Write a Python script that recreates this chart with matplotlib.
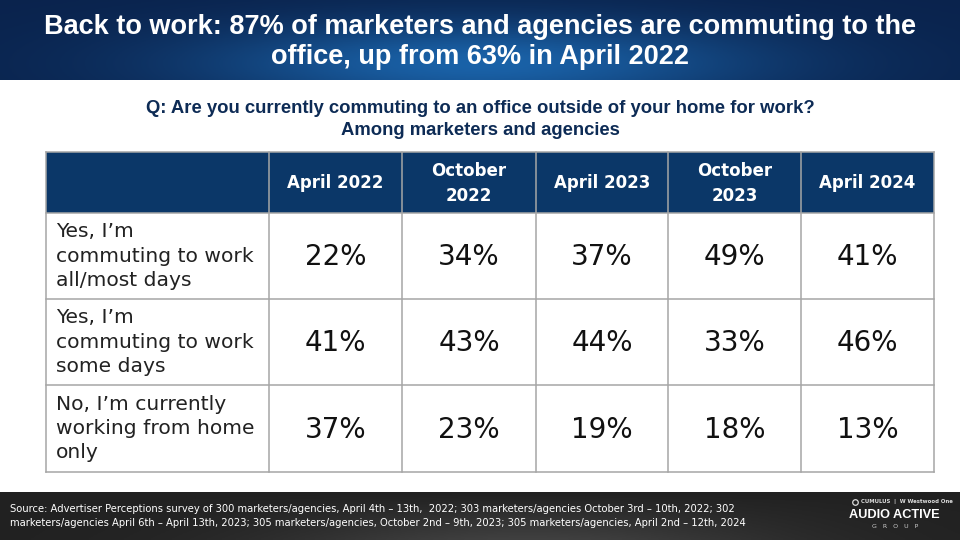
import numpy as np
import matplotlib
matplotlib.use("Agg")
import matplotlib.pyplot as plt
from matplotlib.patches import Rectangle

title = "Back to work: 87% of marketers and agencies are commuting to the\noffice, up from 63% in April 2022"
question = "Q: Are you currently commuting to an office outside of your home for work?\nAmong marketers and agencies"
periods = ["April 2022", "October\n2022", "April 2023", "October\n2023", "April 2024"]
answers = [
    "Yes, I\u2019m\ncommuting to work\nall/most days",
    "Yes, I\u2019m\ncommuting to work\nsome days",
    "No, I\u2019m currently\nworking from home\nonly",
]
all_most_days = [22, 34, 37, 49, 41]
some_days = [41, 43, 44, 33, 46]
home_only = [37, 23, 19, 18, 13]
source = ("Source: Advertiser Perceptions survey of 300 marketers/agencies, April 4th \u2013 13th,  2022; "
          "303 marketers/agencies October 3rd \u2013 10th, 2022; 302\n"
          "marketers/agencies April 6th \u2013 April 13th, 2023; 305 marketers/agencies, October 2nd \u2013 9th, 2023; "
          "305 marketers/agencies, April 2nd \u2013 12th, 2024")

values = [all_most_days, some_days, home_only]

# layout in pixels
col_edges = [46, 269, 402, 536, 668, 801, 934]
row_edges = [152, 213, 299, 385, 472]
navy = "#0b3768"
grid = "#a6a6a6"

fig = plt.figure(figsize=(9.6, 5.4), dpi=100)
ax = fig.add_axes([0, 0, 1, 1])
ax.set_xlim(0, 960)
ax.set_ylim(540, 0)
ax.axis("off")

# title band with a soft radial highlight
xx, yy = np.meshgrid(np.linspace(-1, 1, 400), np.linspace(-1, 1, 40))
glow = np.exp(-(xx ** 2) / 0.35 - ((yy - 0.6) ** 2) / 1.2)
band = np.zeros((40, 400, 3))
dark = np.array([0x0a, 0x23, 0x4d]) / 255
light = np.array([0x1a, 0x62, 0xa8]) / 255
for i in range(3):
    band[..., i] = dark[i] + (light[i] - dark[i]) * glow
ax.imshow(band, extent=(0, 960, 80, 0), aspect="auto", zorder=0)
ax.text(480, 42.5, title, color="white", ha="center", va="center",
        fontsize=19.5, fontweight="bold", family="Liberation Sans", linespacing=1.2)

# footer band
fx, fy = np.meshgrid(np.linspace(-1, 1, 400), np.linspace(0, 1, 20))
fshade = 0.13 + 0.12 * np.exp(-((fx - 0.1) ** 2) / 0.3) * fy
ax.imshow(np.dstack([fshade] * 3), extent=(0, 960, 540, 492), aspect="auto", zorder=0)
ax.text(10, 516, source, color="white", ha="left", va="center",
        fontsize=7.2, family="DejaVu Sans", linespacing=1.45)

# logo
ax.plot(855, 502, marker="o", ms=4, mfc="none", mec="#dddddd", mew=0.9)
ax.text(861, 502, "CUMULUS  |  W Westwood One", color="#dddddd", ha="left", va="center",
        fontsize=3.9, fontweight="bold", family="DejaVu Sans")
ax.text(894, 515, "AUDIO ACTIVE", color="white", ha="center", va="center",
        fontsize=9.2, fontweight="bold", family="Liberation Sans")
ax.text(895, 527, "G   R   O   U   P", color="#cccccc", ha="center", va="center",
        fontsize=4.5, family="DejaVu Sans")

ax.text(480, 119.5, question, color="#0d2b55", ha="center", va="center",
        fontsize=13.3, fontweight="bold", family="Liberation Sans", linespacing=1.45)

# table header
ax.add_patch(Rectangle((col_edges[0], row_edges[0]), col_edges[-1] - col_edges[0],
                       row_edges[1] - row_edges[0], facecolor=navy, edgecolor="none", zorder=1))
for j, p in enumerate(periods):
    cx = (col_edges[j + 1] + col_edges[j + 2]) / 2
    cy = (row_edges[0] + row_edges[1]) / 2
    ax.text(cx, cy + 1, p, color="white", ha="center", va="center", fontsize=12,
            fontweight="bold", family="DejaVu Sans", linespacing=1.55, zorder=3)

# body rows
for i, (ans, vals) in enumerate(zip(answers, values)):
    y0, y1 = row_edges[i + 1], row_edges[i + 2]
    cy = (y0 + y1) / 2
    ax.text(col_edges[0] + 10, cy, ans, color="#222222", ha="left", va="center",
            fontsize=14.6, family="DejaVu Sans", linespacing=1.36, zorder=3)
    for j, v in enumerate(vals):
        cx = (col_edges[j + 1] + col_edges[j + 2]) / 2
        ax.text(cx, cy + 1, f"{v}%", color="#111111", ha="center", va="center",
                fontsize=20, family="DejaVu Sans", zorder=3)

# grid lines
for x in col_edges:
    ax.plot([x, x], [row_edges[0], row_edges[-1]], color=grid, lw=1.1, zorder=2)
for y in row_edges:
    ax.plot([col_edges[0], col_edges[-1]], [y, y], color=grid, lw=1.1, zorder=2)

fig.savefig("out.png", dpi=100)
